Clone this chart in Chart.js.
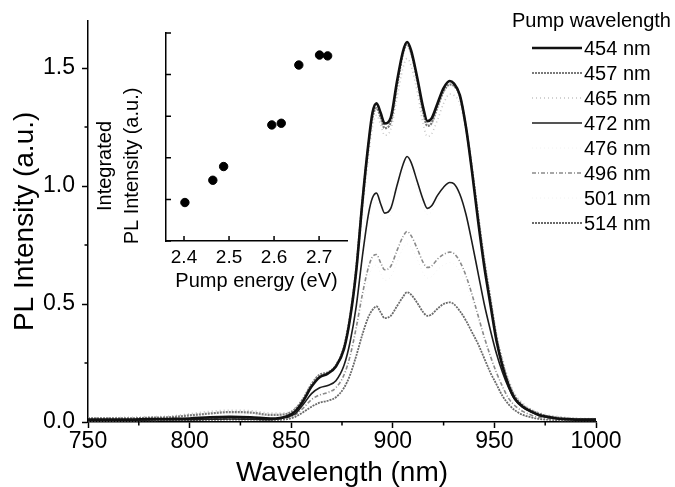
<!DOCTYPE html>
<html>
<head>
<meta charset="utf-8">
<title>PL spectra vs pump wavelength</title>
<script src="https://cdn.jsdelivr.net/npm/chart.js@4.4.1/dist/chart.umd.min.js"></script>
<style>
    body { margin: 0; background: #fff; }
    #wrap { position: relative; width: 675px; height: 487px; background: #fff; }
    #main { position: absolute; left: 0; top: 0; }
    #inset { position: absolute; left: 90px; top: 20px; }
</style>
</head>
<body>
<div id="wrap">
    <canvas id="main" width="675" height="487"></canvas>
    <canvas id="inset" width="270" height="280"></canvas>
</div>
<script>
// Wavelength grid (nm) shared by all spectra
const wavelengths = [750, 760, 770, 780, 790, 800, 810, 820, 830, 840,
    848, 852, 856, 860, 864, 868, 872, 876,
    879, 882, 885, 888, 890, 892, 894, 896,
    899, 902, 905, 907, 909, 912, 915, 917, 919,
    922, 925, 928, 930, 933, 936, 939, 942, 945, 948,
    951, 954, 957, 960, 964, 968, 972, 976, 980,
    985, 990, 995, 1000];

// PL intensity (a.u.) per pump wavelength
const p454 = [0.01, 0.01, 0.01, 0.012, 0.013, 0.015, 0.02, 0.022, 0.02, 0.015,
    0.025, 0.045, 0.09, 0.15, 0.19, 0.205, 0.235, 0.31,
    0.44, 0.64, 0.93, 1.18, 1.31, 1.35, 1.31, 1.265,
    1.29, 1.44, 1.57, 1.61, 1.575, 1.46, 1.33, 1.275, 1.285,
    1.35, 1.415, 1.445, 1.435, 1.385, 1.25, 1.06, 0.85, 0.66, 0.50,
    0.345, 0.235, 0.155, 0.10, 0.065, 0.045, 0.03, 0.022, 0.016,
    0.012, 0.01, 0.01, 0.01];
const p457 = [0.015, 0.015, 0.015, 0.018, 0.02, 0.028, 0.036, 0.042, 0.04, 0.03,
    0.035, 0.055, 0.10, 0.16, 0.2, 0.21, 0.24, 0.32,
    0.45, 0.65, 0.93, 1.17, 1.29, 1.33, 1.29, 1.245,
    1.27, 1.42, 1.56, 1.60, 1.565, 1.45, 1.31, 1.255, 1.265,
    1.335, 1.40, 1.43, 1.425, 1.38, 1.25, 1.07, 0.87, 0.68, 0.52,
    0.36, 0.25, 0.165, 0.11, 0.07, 0.05, 0.035, 0.025, 0.02,
    0.015, 0.013, 0.012, 0.012];
const p465 = [0.018, 0.018, 0.02, 0.022, 0.025, 0.035, 0.045, 0.05, 0.048, 0.038,
    0.04, 0.06, 0.10, 0.16, 0.195, 0.205, 0.235, 0.31,
    0.43, 0.62, 0.89, 1.12, 1.25, 1.30, 1.26, 1.215,
    1.24, 1.37, 1.50, 1.54, 1.51, 1.40, 1.26, 1.21, 1.22,
    1.28, 1.35, 1.39, 1.385, 1.35, 1.24, 1.08, 0.89, 0.70, 0.54,
    0.38, 0.27, 0.18, 0.12, 0.08, 0.055, 0.04, 0.03, 0.025,
    0.02, 0.016, 0.015, 0.015];
const p472 = [0.008, 0.008, 0.008, 0.009, 0.01, 0.01, 0.012, 0.013, 0.012, 0.01,
    0.02, 0.035, 0.075, 0.12, 0.145, 0.155, 0.175, 0.24,
    0.34, 0.49, 0.70, 0.88, 0.95, 0.97, 0.925, 0.885,
    0.905, 1.0, 1.09, 1.125, 1.10, 1.02, 0.94, 0.905, 0.915,
    0.96, 0.995, 1.015, 1.01, 0.965, 0.88, 0.76, 0.63, 0.50, 0.39,
    0.29, 0.21, 0.145, 0.095, 0.062, 0.042, 0.028, 0.02, 0.015,
    0.012, 0.01, 0.01, 0.01];
const p476 = [0.012, 0.012, 0.013, 0.015, 0.018, 0.025, 0.032, 0.036, 0.034, 0.026,
    0.03, 0.045, 0.08, 0.125, 0.145, 0.155, 0.17, 0.23,
    0.33, 0.47, 0.67, 0.85, 0.92, 0.94, 0.9, 0.86,
    0.88, 0.97, 1.06, 1.09, 1.07, 0.99, 0.91, 0.88, 0.89,
    0.94, 0.98, 1.0, 0.995, 0.955, 0.875, 0.76, 0.64, 0.51, 0.4,
    0.3, 0.22, 0.15, 0.1, 0.066, 0.045, 0.03, 0.022, 0.017,
    0.014, 0.012, 0.011, 0.011];
const p496 = [0.008, 0.008, 0.008, 0.009, 0.01, 0.012, 0.014, 0.015, 0.014, 0.012,
    0.018, 0.03, 0.06, 0.095, 0.115, 0.125, 0.145, 0.2,
    0.28, 0.40, 0.54, 0.655, 0.70, 0.71, 0.675, 0.645,
    0.66, 0.725, 0.785, 0.807, 0.79, 0.735, 0.675, 0.655, 0.66,
    0.69, 0.71, 0.72, 0.715, 0.68, 0.62, 0.54, 0.45, 0.36, 0.28,
    0.21, 0.15, 0.10, 0.07, 0.045, 0.03, 0.02, 0.015, 0.012,
    0.01, 0.01, 0.009, 0.009];
const p501 = [0.01, 0.01, 0.011, 0.012, 0.014, 0.02, 0.026, 0.03, 0.028, 0.02,
    0.024, 0.035, 0.06, 0.09, 0.11, 0.12, 0.135, 0.185,
    0.26, 0.37, 0.50, 0.61, 0.655, 0.665, 0.63, 0.6,
    0.615, 0.675, 0.735, 0.755, 0.74, 0.69, 0.63, 0.61, 0.615,
    0.645, 0.665, 0.675, 0.67, 0.64, 0.585, 0.51, 0.43, 0.345, 0.27,
    0.2, 0.145, 0.1, 0.068, 0.044, 0.03, 0.02, 0.016, 0.013,
    0.011, 0.01, 0.01, 0.01];
const p514 = [0.006, 0.006, 0.006, 0.007, 0.008, 0.008, 0.009, 0.01, 0.01, 0.009,
    0.012, 0.022, 0.042, 0.065, 0.082, 0.09, 0.105, 0.145,
    0.20, 0.28, 0.37, 0.445, 0.475, 0.49, 0.465, 0.44,
    0.45, 0.49, 0.53, 0.55, 0.54, 0.505, 0.465, 0.45, 0.455,
    0.48, 0.50, 0.507, 0.50, 0.47, 0.43, 0.38, 0.33, 0.27, 0.21,
    0.16, 0.11, 0.075, 0.05, 0.03, 0.02, 0.013, 0.01, 0.008,
    0.007, 0.007, 0.007, 0.007];

const pumpLabels = ['454 nm', '457 nm', '465 nm', '472 nm', '476 nm', '496 nm', '501 nm', '514 nm'];
const spectra = [p454, p457, p465, p472, p476, p496, p501, p514];

// Inset: integrated PL vs pump photon energy
const pumpEnergy = [2.402, 2.464, 2.488, 2.595, 2.616, 2.655, 2.701, 2.719];
const integratedPL = [0.925, 1.46, 1.79, 2.79, 2.83, 4.23, 4.47, 4.45];

// Tick values
const majorX = [750, 800, 850, 900, 950, 1000];
const minorX = [775, 825, 875, 925, 975];
const majorY = [0, 0.5, 1.0, 1.5];
const minorY = [0.25, 0.75, 1.25];
const insetTicksX = [2.4, 2.5, 2.6, 2.7];
const insetTicksY = [0, 1, 2, 3, 4, 5];

// Line look per pump wavelength (476 and 501 barely show in the scan)
const lineStyles = [
    { color: '#111111', width: 2.6, dash: [] },
    { color: '#7a7a7a', width: 2.2, dash: [2, 1] },
    { color: '#c4c4c4', width: 1.6, dash: [1, 3] },
    { color: '#1c1c1c', width: 1.6, dash: [] },
    { color: '#f2f2f2', width: 1, dash: [1, 3] },
    { color: '#8a8a8a', width: 1.6, dash: [4, 2, 1, 2] },
    { color: '#f2f2f2', width: 1, dash: [1, 3] },
    { color: '#6a6a6a', width: 1.8, dash: [2, 1] }
];

Chart.defaults.font.family = '"Liberation Sans", Arial, Helvetica, sans-serif';
Chart.defaults.color = '#000';

// Short minor tick marks on the main axes
const minorTicks = {
    id: 'minorTicks',
    afterDraw(chart) {
        const { ctx, chartArea, scales: { x, y } } = chart;
        ctx.save();
        ctx.strokeStyle = '#000';
        ctx.lineWidth = 1.5;
        ctx.beginPath();
        minorX.forEach(v => {
            const px = x.getPixelForValue(v);
            ctx.moveTo(px, chartArea.bottom);
            ctx.lineTo(px, chartArea.bottom + 3.5);
        });
        minorY.forEach(v => {
            const py = y.getPixelForValue(v);
            ctx.moveTo(chartArea.left, py);
            ctx.lineTo(chartArea.left - 3.5, py);
        });
        ctx.stroke();
        ctx.restore();
    }
};

// Legend drawn at the right, outside the plot area
const pumpLegend = {
    id: 'pumpLegend',
    afterDraw(chart) {
        const ctx = chart.ctx;
        ctx.save();
        ctx.fillStyle = '#000';
        ctx.font = '20px "Liberation Sans", Arial, sans-serif';
        ctx.textBaseline = 'middle';
        ctx.textAlign = 'left';
        ctx.fillText('Pump wavelength', 512, 21);
        chart.data.datasets.forEach((ds, i) => {
            const yy = 48 + i * 25;
            ctx.strokeStyle = ds.borderColor;
            ctx.lineWidth = ds.borderWidth;
            ctx.setLineDash(ds.borderDash);
            ctx.beginPath();
            ctx.moveTo(532, yy);
            ctx.lineTo(582, yy);
            ctx.stroke();
            ctx.setLineDash([]);
            ctx.fillText(ds.label, 584, yy + 1);
        });
        ctx.restore();
    }
};

// Inward tick marks and rotated two-line title for the inset
const insetDecor = {
    id: 'insetDecor',
    afterDraw(chart) {
        const { ctx, chartArea, scales: { x, y } } = chart;
        ctx.save();
        ctx.strokeStyle = '#000';
        ctx.lineWidth = 1.5;
        ctx.beginPath();
        insetTicksX.forEach(v => {
            const px = x.getPixelForValue(v);
            ctx.moveTo(px, chartArea.bottom);
            ctx.lineTo(px, chartArea.bottom - 5);
        });
        insetTicksY.forEach(v => {
            const py = y.getPixelForValue(v);
            ctx.moveTo(chartArea.left, py);
            ctx.lineTo(chartArea.left + 5, py);
        });
        ctx.stroke();

        ctx.fillStyle = '#000';
        ctx.font = '20px "Liberation Sans", Arial, sans-serif';
        ctx.textAlign = 'center';
        ctx.textBaseline = 'middle';
        [['Integrated', 15.5], ['PL Intensity (a.u.)', 42.5]].forEach(([txt, cx]) => {
            ctx.save();
            ctx.translate(cx, 146);
            ctx.rotate(-Math.PI / 2);
            ctx.fillText(txt, 0, 0);
            ctx.restore();
        });
        ctx.restore();
    }
};

new Chart(document.getElementById('main'), {
    type: 'line',
    data: {
        datasets: spectra.map((vals, i) => ({
            label: pumpLabels[i],
            data: wavelengths.map((w, j) => ({ x: w, y: vals[j] })),
            borderColor: lineStyles[i].color,
            borderWidth: lineStyles[i].width,
            borderDash: lineStyles[i].dash,
            pointRadius: 0,
            cubicInterpolationMode: 'monotone',
            fill: false
        }))
    },
    options: {
        responsive: false,
        animation: false,
        layout: { padding: { top: 14, right: 79, left: 0, bottom: 0 } },
        plugins: { legend: { display: false }, tooltip: { enabled: false } },
        scales: {
            x: {
                type: 'linear',
                min: 750,
                max: 1000,
                afterBuildTicks: s => { s.ticks = majorX.map(v => ({ value: v })); },
                afterFit: s => { s.height = 65; },
                ticks: { font: { size: 23 }, color: '#000', padding: 0, maxRotation: 0, autoSkip: false, callback: v => String(v) },
                grid: { drawOnChartArea: false, drawTicks: true, tickLength: 6, tickColor: '#000', tickWidth: 1.5 },
                border: { display: true, color: '#000', width: 1.5 },
                title: { display: true, text: 'Wavelength (nm)', font: { size: 28, lineHeight: 1 }, padding: 0, color: '#000' }
            },
            y: {
                min: 0,
                max: 1.7,
                afterBuildTicks: s => { s.ticks = majorY.map(v => ({ value: v })); },
                afterFit: s => { s.width = 88; },
                ticks: { font: { size: 23 }, color: '#000', padding: 7, callback: v => v.toFixed(1) },
                grid: { drawOnChartArea: false, drawTicks: true, tickLength: 6, tickColor: '#000', tickWidth: 1.5 },
                border: { display: true, color: '#000', width: 1.5 },
                title: { display: true, text: 'PL Intensity (a.u.)', font: { size: 28, lineHeight: 1 }, padding: { top: 11, bottom: 0 }, color: '#000' }
            }
        }
    },
    plugins: [minorTicks, pumpLegend]
});

new Chart(document.getElementById('inset'), {
    type: 'scatter',
    data: {
        datasets: [{
            data: pumpEnergy.map((e, i) => ({ x: e, y: integratedPL[i] })),
            backgroundColor: '#000',
            borderColor: '#000',
            pointRadius: 4.2,
            pointHoverRadius: 4.2
        }]
    },
    options: {
        responsive: false,
        animation: false,
        layout: { padding: { top: 13, right: 13, left: 0, bottom: 0 } },
        plugins: { legend: { display: false }, tooltip: { enabled: false } },
        scales: {
            x: {
                type: 'linear',
                min: 2.36,
                max: 2.762,
                afterBuildTicks: s => { s.ticks = insetTicksX.map(v => ({ value: v })); },
                afterFit: s => { s.height = 59; },
                ticks: { font: { size: 19 }, color: '#000', padding: 5, maxRotation: 0, autoSkip: false, callback: v => v.toFixed(1) },
                grid: { drawOnChartArea: false, drawTicks: false },
                border: { display: true, color: '#000', width: 1.5 },
                title: { display: true, text: 'Pump energy (eV)', font: { size: 20, lineHeight: 1 }, padding: { top: 0, bottom: 9 }, color: '#000' }
            },
            y: {
                min: 0,
                max: 5,
                afterBuildTicks: s => { s.ticks = insetTicksY.map(v => ({ value: v })); },
                afterFit: s => { s.width = 76; },
                ticks: { display: false },
                grid: { drawOnChartArea: false, drawTicks: false },
                border: { display: true, color: '#000', width: 1.5 }
            }
        }
    },
    plugins: [insetDecor]
});
</script>
</body>
</html>
